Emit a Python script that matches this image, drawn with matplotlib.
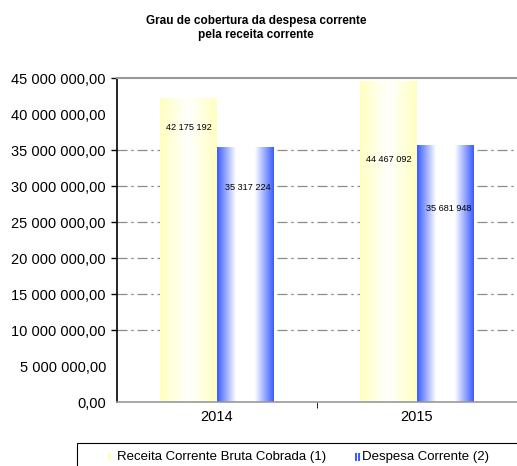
import numpy as np
import matplotlib
matplotlib.use('Agg')
import matplotlib.pyplot as plt
from matplotlib.colors import LinearSegmentedColormap
from matplotlib.patches import Rectangle

plt.rcParams['font.family'] = ['Liberation Sans', 'DejaVu Sans']

anos = ['2014', '2015']
receita = [42175192, 44467092]
despesa = [35317224, 35681948]
series_nomes = ['Receita Corrente Bruta Cobrada (1)', 'Despesa Corrente (2)']
titulo = 'Grau de cobertura da despesa corrente\npela receita corrente'

W, H = 517, 466
fig = plt.figure(figsize=(W / 100, H / 100), dpi=100)
ax = fig.add_axes([117 / W, 1 - 402 / H, 1 - 117 / W, (402 - 78) / H])

cmap_am = LinearSegmentedColormap.from_list('am', ['#ffffc0', '#ffffff', '#ffffc0'])
cmap_az = LinearSegmentedColormap.from_list('az', ['#3a5cff', '#ffffff', '#ffffff', '#3a5cff'])

x = np.arange(len(anos))
w = 0.285
b1 = ax.bar(x - w / 2, receita, w, facecolor='none', edgecolor='none')
b2 = ax.bar(x + w / 2, despesa, w, facecolor='none', edgecolor='none')

grad = np.linspace(0, 1, 256).reshape(1, -1)
for bars, cm in [(b1, cmap_am), (b2, cmap_az)]:
    for p in bars:
        x0, h = p.get_x(), p.get_height()
        ax.imshow(grad, cmap=cm, extent=[x0, x0 + p.get_width(), 0, h],
                  aspect='auto', zorder=2, interpolation='bicubic')

def fmt_pt(v):
    return f'{v:,.0f}'.replace(',', ' ')

# posição dos rótulos (deslocamento abaixo do topo, em pontos)
desl_rec = [21, 56]
desl_desp = [29, 46]
for i in range(len(anos)):
    ax.annotate(fmt_pt(receita[i]), (x[i] - w / 2, receita[i]), xytext=(0, -desl_rec[i]),
                textcoords='offset points', ha='center', va='center', fontsize=6.6, zorder=5)
    ax.annotate(fmt_pt(despesa[i]), (x[i] + w / 2, despesa[i]), xytext=(2, -desl_desp[i]),
                textcoords='offset points', ha='center', va='center', fontsize=6.6, zorder=5)

ax.set_xlim(-0.5, 1.5)
ax.set_ylim(0, 45000000)
yt = np.arange(0, 45000001, 5000000)
ax.set_yticks(yt)
ax.set_yticklabels([f'{v:,.2f}'.replace(',', ' ').replace('.', ',') for v in yt], fontsize=10.5)
ax.set_xticks(x)
ax.set_xticklabels(anos, fontsize=10.5)
ax.set_xticks([0.5], minor=True)
ax.tick_params(axis='x', which='major', length=0, pad=6)
ax.tick_params(axis='x', which='minor', length=4, color='black')
ax.tick_params(axis='y', length=4, width=1, color='black', pad=4)

ax.yaxis.grid(True, linestyle=(0, (8, 3, 2, 3)), color='#8c8c8c', linewidth=0.9, zorder=1)
ax.set_axisbelow(True)
gl = ax.get_ygridlines()
tk = ax.yaxis.get_major_ticks()
for i, v in enumerate(yt):
    if v in (0, 5000000, 40000000, 45000000):
        gl[i].set_visible(False)
    if v in (0, 5000000, 40000000):
        tk[i].tick1line.set_visible(False)

ax.spines['right'].set_visible(False)
ax.spines['left'].set_color('black')
ax.spines['left'].set_linewidth(1.2)
ax.spines['top'].set_color('#999999')
ax.spines['top'].set_linewidth(1.5)
ax.spines['bottom'].set_color('#999999')
ax.spines['bottom'].set_linewidth(1.2)

fig.text(256 / W, 1 - 28 / H, titulo, ha='center', va='center', fontsize=8.5,
         fontweight='bold', linespacing=1.25)

# legenda
fig.patches.append(Rectangle((77 / W, -0.05), 1, 0.05 + (H - 443) / H, transform=fig.transFigure,
                             facecolor='white', edgecolor='black', linewidth=0.8))
ly = 1 - 457 / H
fig.patches.append(Rectangle((108 / W, ly - 4 / H), 3 / W, 8 / H, transform=fig.transFigure,
                             facecolor='#ffffc0', edgecolor='none'))
fig.patches.append(Rectangle((355 / W, ly - 4 / H), 1.5 / W, 8 / H, transform=fig.transFigure,
                             facecolor='#3a5cff', edgecolor='none'))
fig.patches.append(Rectangle((358 / W, ly - 4 / H), 1.5 / W, 8 / H, transform=fig.transFigure,
                             facecolor='#3a5cff', edgecolor='none'))
fig.text(117 / W, ly, series_nomes[0], ha='left', va='center', fontsize=9.5)
fig.text(362 / W, ly, series_nomes[1], ha='left', va='center', fontsize=9.5)

fig.savefig('out.png', dpi=100)
